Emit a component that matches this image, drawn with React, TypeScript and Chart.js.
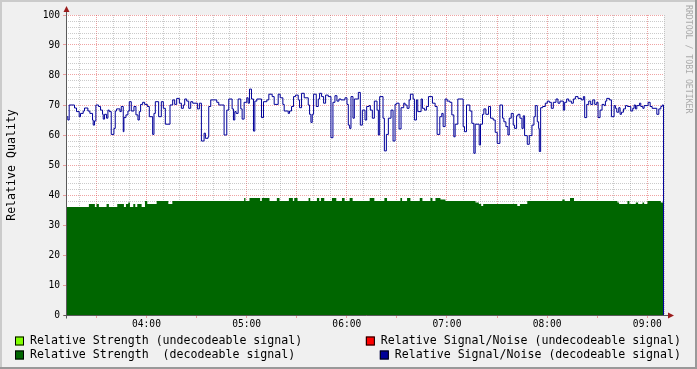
import React, { useEffect, useRef } from 'react';
import { Chart, registerables } from 'chart.js';

Chart.register(...registerables);

// time axis in minutes since midnight
const X_MIN = 191.8;
const X_MAX = 550;
const Y_MIN = 0;
const Y_MAX = 100;
const X_STEP = 10;
const Y_STEP = 2;

const seriesLabels = [
  'Relative Strength (undecodeable signal)',
  'Relative Signal/Noise (undecodeable signal)',
  'Relative Strength  (decodeable signal)',
  'Relative Signal/Noise (decodeable signal)',
];
const seriesColors = ['#80ff00', '#ff0000', '#006600', '#000099'];
const yTitle = 'Relative Quality';
const watermark = 'RRDTOOL / TOBI OETIKER';

// [minute, value] change points (value holds until next point)
const strengthDecodeable: [number, number][] = [
  [191.8, 36], [205.5, 37], [209.1, 36], [210.1, 37], [211.5, 36], [216.1, 37], [217.5, 36], [222.5, 37],
  [226.5, 36], [227.7, 37], [229.1, 37.5], [230.1, 36], [232.1, 37], [233.3, 36], [234.5, 37], [237.1, 36],
  [239.1, 38], [240.5, 37], [246.1, 38], [253.1, 37], [255.5, 38], [298.5, 39], [299.3, 38], [301.7, 39],
  [308.1, 38], [309.1, 39], [313.7, 38], [318.1, 39], [319.7, 38], [325.3, 39], [327.7, 38], [328.5, 39],
  [330.5, 38], [337.1, 39], [338.1, 38], [342.1, 39], [343.5, 38], [344.5, 39], [346.5, 38], [351.1, 39],
  [353.7, 38], [357.1, 39], [358.7, 38], [361.7, 39], [363.5, 38], [373.7, 39], [376.5, 38], [382.5, 39],
  [384.1, 38], [392.1, 39], [393.1, 38], [396.1, 39], [398.1, 38], [403.7, 39], [405.3, 38], [410.1, 39],
  [411.3, 38], [413.1, 39], [416.1, 38.5], [419.1, 38], [437.1, 37.5], [439.1, 37], [440.5, 36.3], [441.7, 37],
  [462.1, 36.3], [463.7, 37], [468.1, 38], [489.1, 38.5], [490.5, 38], [493.7, 39], [496.1, 38], [522.1, 37.5],
  [523.1, 37], [528.1, 38], [529.3, 37], [533.1, 37.5], [534.5, 37], [537.1, 37.5], [538.1, 37], [540.1, 38],
  [548.1, 37.5], [549.7, 0],
];

const snrDecodeableA: [number, number][] = [
  [191.8, 66.1], [192.9, 65], [193.7, 70], [196.9, 69], [198.1, 67.8], [199.7, 66.1], [200.5, 67.2], [202.1, 68],
  [202.9, 69], [204.9, 68], [206.1, 67.2], [207.7, 65], [208.1, 63.3], [208.9, 64.7], [209.7, 70], [211.3, 69.5],
  [212.5, 68.3], [213.7, 66.9], [214.1, 65.3], [214.9, 66.9], [216.1, 65.6], [216.9, 68.3], [217.7, 67.8], [218.9, 60.2],
  [220.5, 62.2], [221.3, 68], [222.1, 68.7], [224.1, 67.8], [224.9, 69.5], [226.1, 61.1], [226.5, 65.8], [227.7, 66.7],
  [228.9, 68], [229.7, 71.1], [230.9, 68], [232.5, 69.5], [233.7, 66.7], [234.9, 65], [235.7, 67.8], [236.5, 70.2],
  [237.7, 70.9], [238.9, 70.2], [240.5, 69.5], [241.7, 66.1], [243.7, 60.2], [244.5, 67.2], [245.3, 71.1], [247.3, 66.1],
  [248.9, 71.1], [250.1, 68.9], [251.3, 63.6], [254.1, 70], [255.7, 71.7], [256.9, 70.2], [258.1, 72.2], [259.7, 70.6],
  [260.9, 68.9], [262.1, 70], [262.9, 72], [264.1, 71.3], [265.3, 68.9], [266.5, 71.1], [267.7, 70.6], [270.5, 68.7],
  [271.7, 70.6], [272.9, 58], [274.5, 60.6], [275.3, 58.9], [276.9, 59.4], [277.3, 69.5], [278.5, 71.7],
];
const snrDecodeableB: [number, number][] = [
  [282.1, 70.9], [283.3, 70], [286.5, 60], [288.1, 68.3], [289.3, 72], [291.3, 68.7], [292.1, 65], [292.9, 67.8],
  [293.7, 67.2], [294.9, 72], [296.5, 68.7], [297.3, 65.3], [298.5, 70.9], [300.1, 72.4], [300.9, 70.6], [301.7, 75.3],
  [302.9, 72], [304.1, 61.3], [304.9, 71.3], [306.1, 72], [308.9, 65.8], [310.1, 71.1], [312.1, 71.7], [313.3, 73.6],
  [315.3, 72.8], [316.5, 70.2], [318.9, 73.6], [320.1, 72.4], [321.7, 70.2], [322.5, 68], [324.9, 67.2], [325.7, 68],
  [326.9, 69.5], [328.1, 72.8], [329.3, 73.3], [330.9, 71.7], [331.7, 69.1], [332.9, 73.9], [334.5, 72.4], [336.9, 70],
  [337.7, 66.9], [338.5, 64.2], [339.3, 66.9], [340.1, 73.6], [341.7, 69.5], [342.9, 72], [343.7, 73.9], [344.9, 72.8],
  [346.1, 70.6], [347.3, 73.3], [348.9, 72.8], [350.5, 59.1], [351.7, 70.9], [352.9, 73.1], [354.1, 71.3], [355.3, 72],
  [356.5, 71.7], [358.9, 72.4], [360.1, 70.2], [360.9, 63.3], [361.7, 62.2], [362.5, 72.8], [363.7, 65.6], [364.5, 72],
  [366.9, 74.2], [368.1, 63.3], [369.3, 68.3],
];
const snrDecodeableC: [number, number][] = [
  [370.9, 65], [371.9, 69.5], [373.3, 69.8], [374.1, 68.3], [375.3, 65.6], [376.5, 71.3], [378.1, 68.3], [378.9, 60],
  [379.7, 72.8], [381.7, 65.6], [382.5, 54.7], [383.7, 60.2], [384.9, 65.6], [386.5, 68.3], [387.7, 58], [388.9, 70.2],
  [389.7, 70.6], [391.3, 62], [392.5, 69.1], [394.1, 70.6], [394.9, 70], [396.1, 68.9], [397.3, 71.7], [398.1, 73.6],
  [399.7, 72], [400.5, 65], [401.7, 71.7], [402.5, 67.8], [404.5, 72], [405.3, 68.9], [406.5, 68.3], [407.7, 69.5],
  [408.9, 72.8], [411.3, 70.6], [412.9, 69.5], [414.1, 60.2], [415.7, 66.1], [416.9, 67.2], [417.7, 62.8], [418.9, 72],
  [420.1, 71.3], [421.7, 70.9], [422.9, 66.7], [424.1, 59.4], [424.9, 63.6], [426.5, 72], [429.7, 62.8], [430.5, 61.1],
  [431.7, 70], [433.7, 68], [434.9, 63.9], [436.1, 53.9], [436.9, 63.6], [439.3, 56.7], [440.1, 63.6], [441.3, 66.9],
  [442.1, 68.7], [443.3, 66.9], [444.9, 69.5], [446.1, 65.6], [447.7, 65], [448.9, 60.9], [450.1, 57.2], [451.7, 70],
  [453.3, 65.6], [454.1, 64.4], [455.3, 62.8], [456.5, 60], [457.3, 65.6], [458.5, 67.2], [459.7, 63.3],
];
const snrDecodeableD: [number, number][] = [
  [460.5, 62.2], [461.7, 66.4], [462.5, 66.9], [463.7, 65.6], [464.9, 62.2], [465.7, 66.4], [466.5, 59.8], [468.1, 56.9],
  [469.3, 59.8], [470.9, 63.3], [472.1, 66.1], [472.9, 69.8], [474.1, 64.4], [474.9, 62.2], [475.3, 54.5], [476.1, 69.1],
  [477.3, 69.5], [478.9, 70.6], [480.1, 71.3], [481.3, 70.9], [482.5, 68.9], [483.7, 70.9], [485.3, 72], [486.5, 70.6],
  [487.7, 71.3], [489.7, 68.3], [490.5, 70.9], [491.7, 72], [492.9, 71.3], [494.5, 70.6], [495.7, 72], [496.9, 72.8],
  [498.5, 72.2], [500.5, 71.7], [501.7, 72.8], [502.5, 65.8], [503.7, 70.2], [504.9, 71.3], [506.1, 70.2], [507.3, 71.7],
  [508.5, 70.2], [509.7, 70.9], [510.5, 65.8], [511.7, 68.3], [512.9, 70.2], [514.1, 69.8], [514.9, 71.3], [515.7, 72.2],
  [517.3, 71.7], [518.5, 66.1], [520.1, 69.8], [520.9, 68.9], [521.7, 67.6], [522.9, 69.1], [523.7, 66.9], [524.5, 67.6],
  [525.7, 68.7], [526.9, 69.8], [528.1, 69.5], [530.1, 68], [531.3, 68.9], [532.1, 70], [532.9, 68.7], [533.7, 69.8],
  [535.3, 70.6], [536.1, 69.5], [537.3, 68.9], [538.1, 69.8], [540.5, 70.9], [541.7, 69.5], [542.9, 68.9], [545.7, 66.9],
  [546.9, 68.7], [548.1, 69.5], [548.9, 70], [549.7, 0],
];

const FONT = "'DejaVu Sans Mono', monospace";
const MAJOR = 'rgba(220,50,50,0.45)';
const MINOR = 'rgba(140,140,140,0.45)';
const CLEAR = 'rgba(0,0,0,0)';
const pad2 = (n: number) => String(n).padStart(2, '0');

export default function App() {
  const ref = useRef<HTMLCanvasElement>(null);

  useEffect(() => {
    document.body.style.margin = '0';
    const canvas = ref.current;
    if (!canvas) return;

    const toXY = (arr: [number, number][]) => arr.map(([x, y]) => ({ x, y }));
    const snr = toXY([...snrDecodeableA, ...snrDecodeableB, ...snrDecodeableC, ...snrDecodeableD]);
    const str = toXY(strengthDecodeable);

    const framePlugin = {
      id: 'frame',
      beforeDraw(chart: any) {
        const { ctx, width, height, chartArea: ca } = chart;
        ctx.save();
        ctx.fillStyle = '#f0f0f0';
        ctx.fillRect(0, 0, width, height);
        ctx.fillStyle = '#cbcbcb';
        ctx.fillRect(0, 0, width, 2);
        ctx.fillRect(0, 0, 2, height);
        ctx.fillStyle = '#999999';
        ctx.fillRect(0, height - 2, width, 2);
        ctx.fillRect(width - 2, 0, 2, height);
        ctx.fillStyle = '#ffffff';
        ctx.fillRect(ca.left, ca.top, ca.right - ca.left, ca.bottom - ca.top);
        ctx.restore();
      },
      afterDraw(chart: any) {
        const { ctx, chartArea: ca, data } = chart;
        ctx.save();
        // axes
        const ax = Math.round(ca.left) + 0.5;
        const ay = Math.round(ca.bottom) + 0.5;
        ctx.strokeStyle = '#5a5a5a';
        ctx.lineWidth = 1;
        ctx.beginPath();
        ctx.moveTo(ax, ay + 3);
        ctx.lineTo(ax, ca.top - 5);
        ctx.moveTo(ax - 3, ay);
        ctx.lineTo(ca.right + 6, ay);
        ctx.stroke();
        ctx.fillStyle = '#9b1c1c';
        ctx.beginPath();
        ctx.moveTo(ax, ca.top - 9);
        ctx.lineTo(ax - 3, ca.top - 3);
        ctx.lineTo(ax + 3, ca.top - 3);
        ctx.closePath();
        ctx.fill();
        ctx.beginPath();
        ctx.moveTo(ca.right + 10, ay);
        ctx.lineTo(ca.right + 4, ay - 3);
        ctx.lineTo(ca.right + 4, ay + 3);
        ctx.closePath();
        ctx.fill();

        // legend
        ctx.font = `11.6px ${FONT}`;
        ctx.textBaseline = 'middle';
        ctx.fillStyle = '#000';
        const rows = [341, 355];
        const drawItem = (i: number, x: number, y: number) => {
          ctx.fillStyle = seriesColors[i];
          ctx.fillRect(x, y - 4.5, 9, 9);
          ctx.strokeStyle = '#000';
          ctx.strokeRect(x + 0.5, y - 4, 8, 8);
          ctx.fillStyle = '#000';
          ctx.textAlign = 'left';
          ctx.fillText(data.datasets[i].label, x + 15, y);
        };
        drawItem(0, 15, rows[0]);
        drawItem(2, 15, rows[1]);
        const rightEnd = 681;
        const w1 = ctx.measureText(data.datasets[1].label).width;
        drawItem(1, rightEnd - w1 - 15, rows[0]);
        const w3 = ctx.measureText(data.datasets[3].label).width;
        drawItem(3, rightEnd - w3 - 15, rows[1]);

        // watermark
        ctx.save();
        ctx.translate(688, 5);
        ctx.rotate(Math.PI / 2);
        ctx.font = `8.2px ${FONT}`;
        ctx.fillStyle = '#aaaaaa';
        ctx.textAlign = 'left';
        ctx.textBaseline = 'middle';
        ctx.fillText(watermark, 0, 0);
        ctx.restore();
        ctx.restore();
      },
    };

    const chart = new Chart(canvas, {
      type: 'line',
      data: {
        datasets: [
          { label: seriesLabels[0], data: [], borderColor: seriesColors[0], backgroundColor: seriesColors[0], pointRadius: 0, order: 3 },
          { label: seriesLabels[1], data: [], borderColor: seriesColors[1], backgroundColor: seriesColors[1], pointRadius: 0, order: 3 },
          {
            label: seriesLabels[2], data: str, stepped: true, fill: 'origin', borderWidth: 0,
            borderColor: seriesColors[2], backgroundColor: seriesColors[2], pointRadius: 0, order: 2,
          },
          {
            label: seriesLabels[3], data: snr, stepped: true, fill: false, borderWidth: 1,
            borderColor: seriesColors[3], backgroundColor: seriesColors[3], pointRadius: 0, order: 1,
          },
        ],
      },
      options: {
        responsive: false,
        animation: false,
        events: [],
        layout: { padding: { left: 0, top: 15, right: 33, bottom: 34 } },
        plugins: { legend: { display: false }, tooltip: { enabled: false } },
        scales: {
          x: {
            type: 'linear',
            min: X_MIN,
            max: X_MAX,
            z: 1,
            afterFit: (s: any) => { s.height = 20; },
            ticks: {
              stepSize: X_STEP,
              autoSkip: false,
              maxRotation: 0,
              minRotation: 0,
              includeBounds: false,
              padding: 1,
              color: '#000',
              font: { family: FONT, size: 9.6 },
              callback: (v: any) => (Number(v) % 60 === 0 ? `${pad2(Number(v) / 60)}:00` : ''),
            },
            grid: {
              color: (c: any) => (c.tick && c.tick.value % 30 === 0 ? MAJOR : MINOR),
              tickColor: (c: any) => (c.tick && c.tick.value % 30 === 0 ? MAJOR : CLEAR),
              tickLength: 3,
              lineWidth: 1,
            },
            border: { display: false, dash: [1, 1] },
          },
          y: {
            min: Y_MIN,
            max: Y_MAX,
            z: 1,
            afterFit: (s: any) => { s.width = 66; },
            ticks: {
              stepSize: Y_STEP,
              autoSkip: false,
              padding: 3,
              color: '#000',
              font: { family: FONT, size: 9.6 },
              callback: (v: any) => (Number(v) % 10 === 0 ? String(v) : ''),
            },
            grid: {
              color: (c: any) => (c.tick && c.tick.value % 10 === 0 ? MAJOR : MINOR),
              tickColor: (c: any) => (c.tick && c.tick.value % 10 === 0 ? MAJOR : CLEAR),
              tickLength: 3,
              lineWidth: 1,
            },
            border: { display: false, dash: [1, 1] },
            title: {
              display: true,
              text: yTitle,
              color: '#000',
              font: { family: FONT, size: 11.6 },
              padding: { top: 5, bottom: 0 },
            },
          },
        },
      },
      plugins: [framePlugin],
    } as any);

    return () => chart.destroy();
  }, []);

  return (
    <div style={{ width: 697, height: 369 }}>
      <canvas ref={ref} width={697} height={369} style={{ display: 'block' }} />
    </div>
  );
}
